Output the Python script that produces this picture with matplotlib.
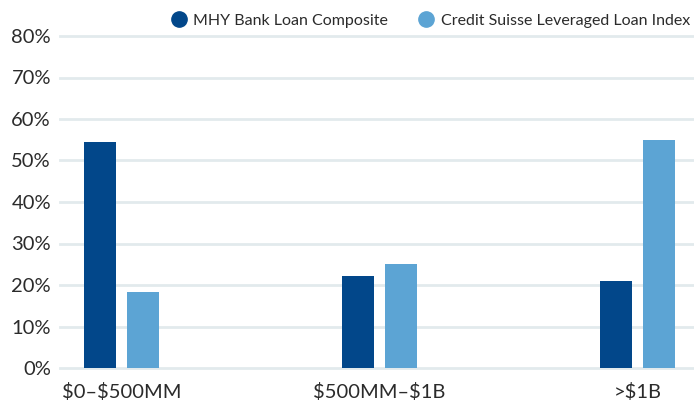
import numpy as np
import matplotlib.pyplot as plt
from matplotlib.lines import Line2D

# -------------------------
# Data
# -------------------------
categories = ["\\$0\u2013\\$500MM", "\\$500MM\u2013\\$1B", ">\\$1B"]
mhy_composite = [54.5, 22.2, 21.0]
cs_leveraged = [18.3, 25.1, 54.9]
series_names = ["MHY Bank Loan Composite", "Credit Suisse Leveraged Loan Index"]
y_ticks = [0, 10, 20, 30, 40, 50, 60, 70, 80]

dark_blue = "#02478A"
light_blue = "#5CA4D4"
grid_col = "#E2EAED"
text_col = "#2B2B2B"

plt.rcParams['font.family'] = ['Lato', 'DejaVu Sans']

W, H = 694, 408
fig = plt.figure(figsize=(W / 100, H / 100), dpi=100)
ax = fig.add_axes([60 / W, (H - 368) / H, (W - 60) / W, (368 - 36) / H])

x = np.arange(len(categories))
bw = 0.124
off = 0.0835
ax.bar(x - off, mhy_composite, width=bw, color=dark_blue, zorder=2)
ax.bar(x + off, cs_leveraged, width=bw, color=light_blue, zorder=2)

# horizontal gridlines
for t in y_ticks:
    ax.axhline(t, color=grid_col, lw=2, zorder=1, clip_on=False)

ax.set_xlim(-0.24, 2.22)
ax.set_ylim(0, 80)
ax.set_yticks(y_ticks)
ax.set_yticklabels([f"{t}%" for t in y_ticks])
ax.set_xticks(x)
ax.set_xticklabels(categories)
ax.tick_params(axis='both', length=0, labelsize=14.5, colors=text_col)
ax.tick_params(axis='y', pad=6.5)
ax.tick_params(axis='x', pad=11)
for s in ax.spines.values():
    s.set_visible(False)

# legend across the top
handles = [Line2D([], [], marker='o', ls='', color=c, markersize=11)
           for c in (dark_blue, light_blue)]
fig.legend(handles, series_names, loc='upper right', bbox_to_anchor=(1.008, 0.99),
           ncol=2, frameon=False, fontsize=11.5, labelcolor=text_col,
           handletextpad=0.3, columnspacing=1.8, handlelength=1.2,
           borderaxespad=0.2)

fig.savefig("out.png", dpi=100)
